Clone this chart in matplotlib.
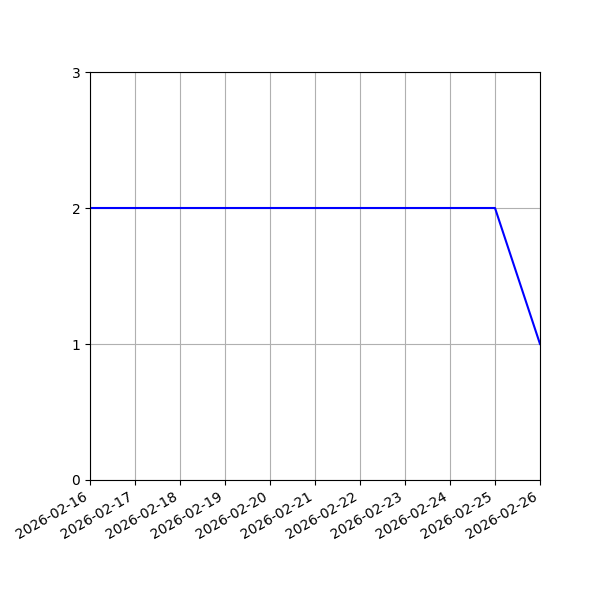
import matplotlib

matplotlib.use("Agg")
import matplotlib.pyplot as plt
import matplotlib.dates as mdates
from datetime import date

# daily counts
dates = [
    date(2026, 2, 16), date(2026, 2, 17), date(2026, 2, 18), date(2026, 2, 19),
    date(2026, 2, 20), date(2026, 2, 21), date(2026, 2, 22), date(2026, 2, 23),
    date(2026, 2, 24), date(2026, 2, 25), date(2026, 2, 26),
]
counts = [2, 2, 2, 2, 2, 2, 2, 2, 2, 2, 1]
y_ticks = [0, 1, 2, 3]

fig, ax = plt.subplots(figsize=(6, 6), dpi=100)
ax.plot(dates, counts, color="blue")
ax.set_xlim(dates[0], dates[-1])
ax.set_ylim(0, 3)
ax.set_yticks(y_ticks)
ax.xaxis.set_major_locator(mdates.DayLocator())
ax.xaxis.set_major_formatter(mdates.DateFormatter("%Y-%m-%d"))
ax.grid(True)
fig.autofmt_xdate()
fig.subplots_adjust(left=0.15, right=0.9, top=0.88, bottom=0.2)
fig.savefig("out.png")
